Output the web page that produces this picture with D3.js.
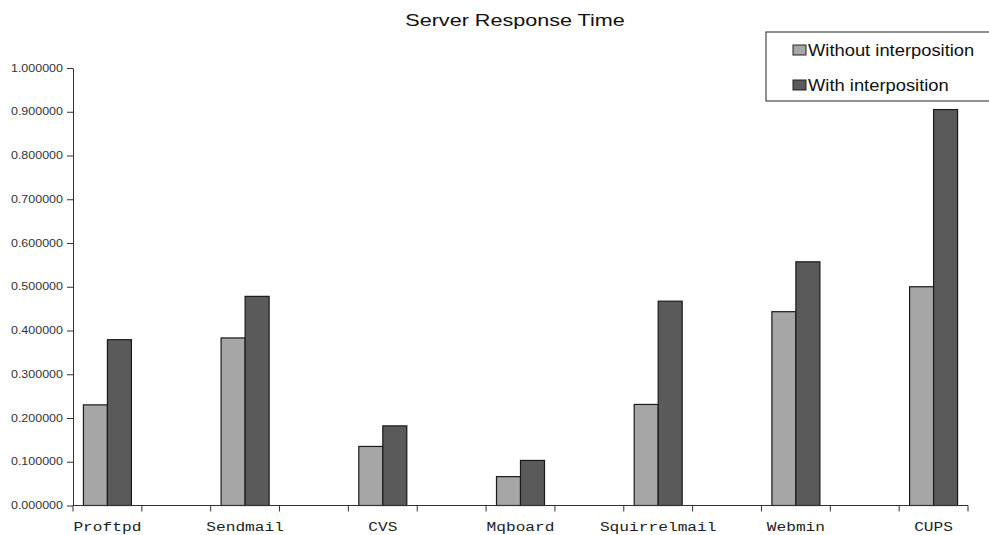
<!DOCTYPE html>
<html>
<head>
<meta charset="utf-8">
<script src="https://cdn.jsdelivr.net/npm/d3@7"></script>
<style>
  body { margin: 0; background: #fff; }
  svg { display: block; }
</style>
</head>
<body>
<div id="chart"></div>
<script>
const categories = ['Proftpd', 'Sendmail', 'CVS', 'Mqboard', 'Squirrelmail', 'Webmin', 'CUPS'];
const series = ['Without interposition', 'With interposition'];
const withoutValues = [0.230, 0.383, 0.135, 0.066, 0.231, 0.443, 0.500];
const withValues = [0.379, 0.478, 0.182, 0.103, 0.467, 0.557, 0.905];
const yTicks = [0, 0.1, 0.2, 0.3, 0.4, 0.5, 0.6, 0.7, 0.8, 0.9, 1.0];
const colors = ['#a6a6a6', '#5a5a5a'];

const W = 989, H = 535;
const PLOT = { LEFT: 73, RIGHT: 968, TOP: 68, BOTTOM: 505.5 };

const svg = d3.select('#chart').append('svg')
  .attr('width', W).attr('height', H);

// the axis covers 6.5 category steps, categories sit a quarter step in
const q = (PLOT.RIGHT - PLOT.LEFT) / 26;
const x = d3.scaleBand().domain(categories).range([PLOT.LEFT - q, PLOT.RIGHT + q]);
const step = x.step();
const groupW = 48;
const x1 = d3.scaleBand().domain(series).range([0, groupW]);

const y = d3.scaleLinear().domain([0, 1]).range([PLOT.BOTTOM, PLOT.TOP]);

const data = categories.map((c, i) => ({ group: c, values: [withoutValues[i], withValues[i]] }));

// bars
svg.append('g').selectAll('g')
  .data(data)
  .join('g')
  .attr('transform', d => `translate(${x(d.group) + step / 2 - groupW / 2},0)`)
  .selectAll('rect')
  .data(d => d.values.map((v, k) => ({ key: series[k], v, k })))
  .join('rect')
  .attr('x', d => x1(d.key))
  .attr('y', d => y(d.v))
  .attr('width', x1.bandwidth())
  .attr('height', d => y(0) - y(d.v))
  .attr('fill', d => colors[d.k])
  .attr('stroke', '#1a1a1a')
  .attr('stroke-width', 1.2);

// y axis (the scanned original is stretched sideways, so text is widened)
const yAxis = svg.append('g')
  .attr('transform', `translate(${PLOT.LEFT},0)`)
  .call(d3.axisLeft(y).tickValues(yTicks).tickSize(6).tickSizeOuter(0).tickFormat(d3.format('.6f')));
yAxis.select('.domain').attr('stroke', '#333');
yAxis.selectAll('.tick line').attr('stroke', '#333');
yAxis.selectAll('text')
  .attr('x', 0)
  .attr('text-anchor', 'end')
  .attr('transform', 'translate(-10,0) scale(1.25,1)')
  .attr('font-family', 'Arial, "Liberation Sans", sans-serif')
  .attr('font-size', 10)
  .attr('fill', '#333');

// x axis: ticks every half category step
const xTickPos = [];
categories.forEach(c => { xTickPos.push(x(c) + step / 4, x(c) + 3 * step / 4); });
const xAxis = svg.append('g');
xAxis.append('line')
  .attr('x1', PLOT.LEFT).attr('x2', PLOT.RIGHT)
  .attr('y1', y(0)).attr('y2', y(0))
  .attr('stroke', '#333');
xAxis.selectAll('line.tick')
  .data(xTickPos)
  .join('line')
  .attr('class', 'tick')
  .attr('x1', d => d).attr('x2', d => d)
  .attr('y1', y(0)).attr('y2', y(0) + 6)
  .attr('stroke', '#333');
xAxis.selectAll('text')
  .data(categories)
  .join('text')
  .attr('transform', d => `translate(${x(d) + step / 2},531) scale(1.2,1)`)
  .attr('text-anchor', 'middle')
  .attr('font-family', '"Liberation Mono", "Courier New", monospace')
  .attr('font-size', 13.5)
  .attr('fill', '#222')
  .text(d => d);

// title
svg.append('text')
  .attr('transform', 'translate(515,26) scale(1.27,1)')
  .attr('text-anchor', 'middle')
  .attr('font-family', 'Arial, "Liberation Sans", sans-serif')
  .attr('font-size', 17)
  .attr('fill', '#111')
  .text('Server Response Time');

// legend
const legend = svg.append('g').attr('transform', 'translate(766,32)');
legend.append('rect')
  .attr('width', 230).attr('height', 69)
  .attr('fill', '#fff').attr('stroke', '#222');
const li = legend.selectAll('g')
  .data(series)
  .join('g')
  .attr('transform', (d, i) => `translate(27,${18 + i * 35})`);
li.append('rect')
  .attr('x', 0).attr('y', -5)
  .attr('width', 13).attr('height', 10)
  .attr('fill', (d, i) => colors[i])
  .attr('stroke', '#222');
li.append('text')
  .attr('transform', 'translate(15,6) scale(1.08,1)')
  .attr('font-family', 'Arial, "Liberation Sans", sans-serif')
  .attr('font-size', 17)
  .attr('fill', '#111')
  .text(d => d);
</script>
</body>
</html>
